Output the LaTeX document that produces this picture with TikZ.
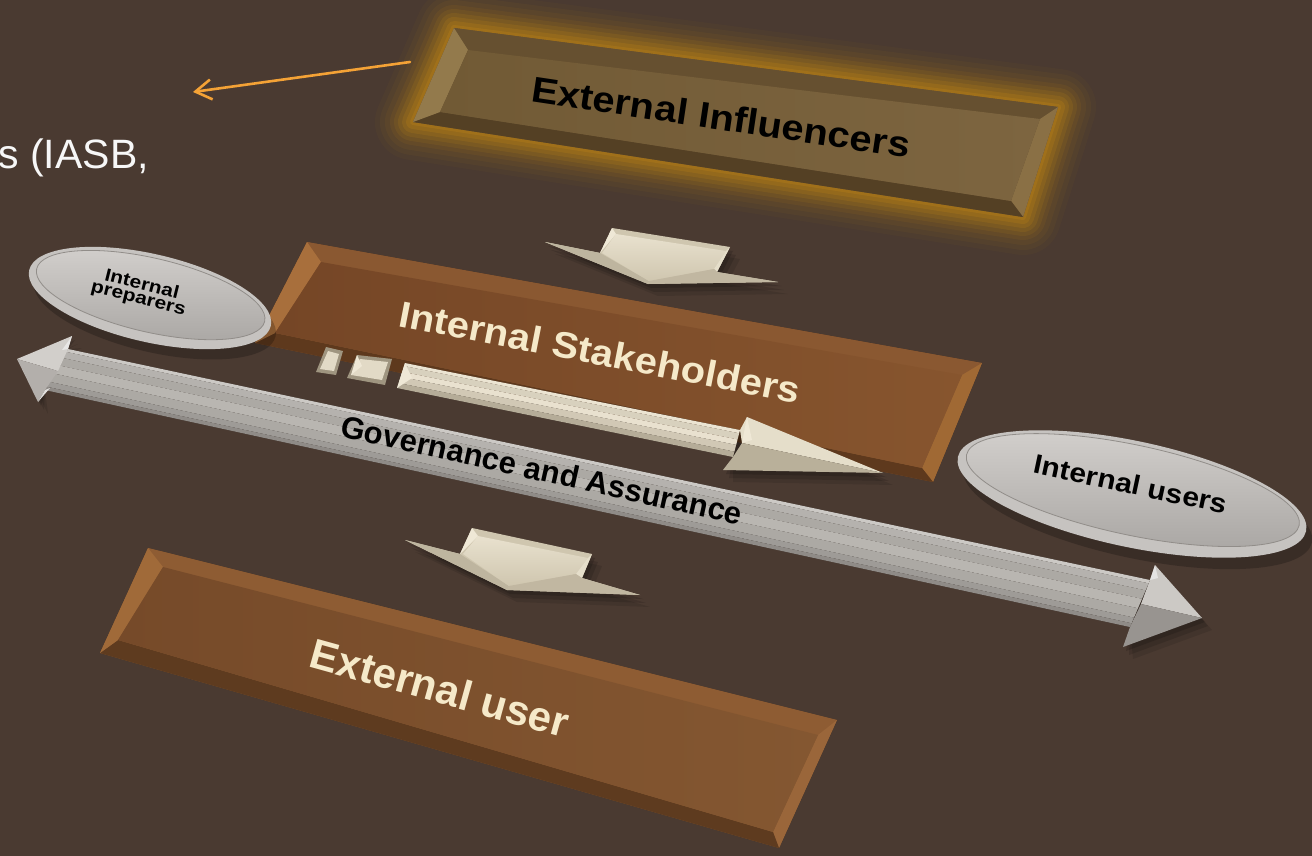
\documentclass[tikz,border=0pt]{standalone}
\usepackage{fontspec}
\setmainfont{Liberation Sans}
\usetikzlibrary{calc,arrows.meta}
\definecolor{bg}{HTML}{4A3A31}
\definecolor{glowc}{HTML}{A8761A}
\definecolor{eiface}{HTML}{715A35}
\definecolor{eifaceB}{HTML}{7D6540}
\definecolor{eitop}{HTML}{665030}
\definecolor{eileft}{HTML}{937A4C}
\definecolor{eiright}{HTML}{8A7045}
\definecolor{eibot}{HTML}{544024}
\definecolor{isface}{HTML}{754626}
\definecolor{isfaceB}{HTML}{87552E}
\definecolor{istop}{HTML}{8A5831}
\definecolor{isleft}{HTML}{A86F3C}
\definecolor{isright}{HTML}{A06934}
\definecolor{isbot}{HTML}{5E391D}
\definecolor{euface}{HTML}{764A29}
\definecolor{eufaceB}{HTML}{845731}
\definecolor{eutop}{HTML}{8E5C33}
\definecolor{euleft}{HTML}{A06A39}
\definecolor{euright}{HTML}{9A663A}
\definecolor{eubot}{HTML}{5E3B1F}
\definecolor{crm}{HTML}{CFC6AF}
\definecolor{crmlight}{HTML}{EFE8D6}
\definecolor{crmdark}{HTML}{9F9580}
\definecolor{glight}{HTML}{D2CFCB}
\definecolor{gdark}{HTML}{86827E}
\definecolor{ghead}{HTML}{B3AFAB}
\definecolor{rimc}{HTML}{C6C3C0}
\definecolor{facetop}{HTML}{D3D0CD}
\definecolor{facebot}{HTML}{A9A6A3}
\definecolor{txtcrm}{HTML}{F5E9C9}
\definecolor{orng}{HTML}{F4A236}
\newcommand\bevbox[1]{%
 \fill[#1top] (#1o1)--(#1o2)--(#1o3)--(#1o4)--cycle;
 \fill[#1top] (#1o1)--(#1o2)--(#1i2)--(#1i1)--cycle;
 \fill[#1right] (#1o2)--(#1o3)--(#1i3)--(#1i2)--cycle;
 \fill[#1bot] (#1o3)--(#1o4)--(#1i4)--(#1i3)--cycle;
 \fill[#1left] (#1o4)--(#1o1)--(#1i1)--(#1i4)--cycle;
 \shade[left color=#1face,right color=#1faceB] (#1i1)--(#1i2)--(#1i3)--(#1i4)--cycle;
}
\newcommand\softshadow[1]{%
 \fill[black,opacity=0.10,shift={(10,12)}] #1;
 \fill[black,opacity=0.12,shift={(6,8)}] #1;
 \fill[black,opacity=0.14,shift={(3,4)}] #1;
}
\begin{document}
\begin{tikzpicture}[x=1pt,y=-1pt,
  txtb/.style={font=\bfseries\fontsize{#1}{#1}\selectfont, inner sep=0pt},
  txtr/.style={font=\fontsize{#1}{#1}\selectfont, inner sep=0pt}]
\fill[bg] (0,0) rectangle (1312,856);
\useasboundingbox (0,0) rectangle (1312,856);
\clip (0,0) rectangle (1312,856);

% ---------------- External Influencers
\coordinate (eio1) at (454,28); \coordinate (eio2) at (1058,107);
\coordinate (eio3) at (1023,217); \coordinate (eio4) at (413,122);
\coordinate (eii1) at (468,50); \coordinate (eii2) at (1040,119);
\coordinate (eii3) at (1011,201); \coordinate (eii4) at (440,112);
\foreach \w/\o in {76/0.05,66/0.07,56/0.09,46/0.12,38/0.16,30/0.22,22/0.3,14/0.42,6/0.6}
  \draw[line width=\w pt,line join=round,draw=glowc,opacity=\o] (eio1)--(eio2)--(eio3)--(eio4)--cycle;
\bevbox{ei}
\node[txtb=40,rotate=-8.5,yscale=0.9,text=black] (eitext) at (721,117) {External Influencers};

% ---------------- chevron 1
\softshadow{(612,228)--(730,247)--(717,272)--(778,282)--(648,284)--(545,242)--(600,253)--cycle}
\fill[crm] (612,228)--(730,247)--(717,272)--(778,282)--(648,284)--(545,242)--(600,253)--cycle;
\fill[crmdark!35!crm] (545,242)--(600,253)--(649,281)--(648,284)--cycle;
\shade[top color=crmlight!80!crm,bottom color=crm] (616,234)--(726,251)--(714,269)--(649,281)--(602,253)--cycle;
\fill[crmlight] (612,228)--(600,253)--(616,234)--cycle;
\fill[crmlight!70!crm] (730,247)--(717,272)--(714,269)--(726,251)--cycle;
\fill[crmdark!30!crm] (714,269)--(717,272)--(778,282)--(648,284)--(649,281)--cycle;

% ---------------- Internal Stakeholders
\coordinate (iso1) at (307,242); \coordinate (iso2) at (982,363);
\coordinate (iso3) at (933,482); \coordinate (iso4) at (255,343);
\coordinate (isi1) at (321,262); \coordinate (isi2) at (962,375);
\coordinate (isi3) at (922,468); \coordinate (isi4) at (275,333);
\softshadow{(iso1)--(iso2)--(iso3)--(iso4)--cycle}
\bevbox{is}
\node[txtb=40,rotate=-11,yscale=0.92,text=txtcrm] (istext) at (600,352) {Internal Stakeholders};

% small cream arrow with squares
\fill[crmdark] (326,347)--(343,351)--(336,375)--(316,372)--cycle;
\fill[crmlight!60!crm] (328,351)--(339,354)--(334,371)--(320,369)--cycle;
\fill[crmdark] (357,355)--(392,359)--(385,385)--(347,378)--cycle;
\fill[crmlight!60!crm] (360,359)--(388,362)--(382,380)--(351,375)--cycle;
\fill[crmlight] (357,355)--(351,375)--(362,366)--cycle;
\coordinate (ca1) at (405,363); \coordinate (ca2) at (740,430);
\coordinate (cb1) at (397,388); \coordinate (cb2) at (733,457);
\softshadow{(ca1)--(ca2)--(747,417)--(883,473)--(723,470)--(cb2)--(cb1)--cycle}
\foreach \fa/\fb/\p in {0/0.12/5,0.12/0.35/28,0.35/0.55/8,0.55/0.8/38,0.8/1.001/72}
  \fill[crmdark!\p!crmlight] ($(ca1)!\fa!(cb1)$)--($(ca2)!\fa!(cb2)$)--($(ca2)!\fb!(cb2)$)--($(ca1)!\fb!(cb1)$)--cycle;
\fill[crmlight] (ca1)--(cb1)--(412,378)--cycle;
\fill[crmlight!70!crm] (740,430)--(747,417)--(883,473)--(742,443)--cycle;
\fill[crmdark!45!crm] (742,443)--(883,473)--(723,470)--(733,457)--cycle;
\fill[crmlight] (747,417)--(742,443)--(752,440)--cycle;

% ---------------- Internal preparers ellipse
\begin{scope}[rotate around={-13:(150,298)}]
  \fill[black,opacity=0.22] (157,307) ellipse [x radius=124,y radius=44];
  \fill[rimc] (150,298) ellipse [x radius=124,y radius=44];
  \shade[top color=facetop,bottom color=facebot] (150,295) ellipse [x radius=117,y radius=37];
  \draw[gdark!70!facebot,line width=0.8pt] (150,295) ellipse [x radius=117,y radius=37];
\end{scope}
\node[txtb=21,rotate=-14,yscale=0.85,text=black,align=center] (prep) at (140,292) {Internal\\[-4pt]preparers};

% ---------------- Governance and Assurance arrow
\coordinate (gt1) at (68,349); \coordinate (gt2) at (1150,580);
\coordinate (gb1) at (45,390); \coordinate (gb2) at (1130,627);
\softshadow{(17,359)--(72,336)--(gt1)--(gt2)--(1155,565)--(1202,618)--(1123,647)--(gb2)--(gb1)--(38,402)--cycle}
\foreach \fa/\fb/\p in {0/0.07/8,0.07/0.22/38,0.22/0.4/50,0.4/0.6/33,0.6/0.8/50,0.8/0.92/68,0.92/1.001/88}
  \fill[gdark!\p!glight] ($(gt1)!\fa!(gb1)$)--($(gt2)!\fa!(gb2)$)--($(gt2)!\fb!(gb2)$)--($(gt1)!\fb!(gb1)$)--cycle;
\fill[glight] (17,359)--(72,336)--(gt1)--(58,371)--cycle;
\fill[ghead] (17,359)--(58,371)--(gb1)--(38,402)--cycle;
\fill[white!70!ghead] (72,336)--(gt1)--(62,350)--cycle;
\fill[white!60!ghead] (38,402)--(gb1)--(50,388)--cycle;
\fill[glight!80!ghead] (gt2)--(1155,565)--(1202,618)--(1141,604)--cycle;
\fill[gdark!60!ghead] (1141,604)--(1202,618)--(1123,647)--(gb2)--cycle;
\fill[white!65!ghead] (1155,565)--(gt2)--(1158,578)--cycle;
\node[txtb=31,rotate=-12.5,text=black] (gov) at (542,470) {Governance and Assurance};

% ---------------- Internal users ellipse
\begin{scope}[rotate around={-12:(1132,494)}]
  \fill[black,opacity=0.22] (1140,504) ellipse [x radius=178,y radius=53];
  \fill[rimc] (1132,494) ellipse [x radius=178,y radius=53];
  \shade[top color=facetop,bottom color=facebot] (1132,490) ellipse [x radius=170,y radius=45];
  \draw[gdark!70!facebot,line width=0.8pt] (1132,490) ellipse [x radius=170,y radius=45];
\end{scope}
\node[txtb=30,rotate=-12,yscale=0.9,text=black] (users) at (1131,484) {Internal users};

% ---------------- chevron 2
\softshadow{(472,528)--(592,554)--(582,578)--(640,595)--(507,590)--(405,540)--(460,554)--cycle}
\fill[crm] (472,528)--(592,554)--(582,578)--(640,595)--(507,590)--(405,540)--(460,554)--cycle;
\fill[crmdark!35!crm] (405,540)--(460,554)--(509,586)--(507,590)--cycle;
\shade[top color=crmlight!80!crm,bottom color=crm] (478,536)--(588,558)--(576,574)--(509,586)--(463,554)--cycle;
\fill[crmlight] (472,528)--(460,554)--(478,536)--cycle;
\fill[crmlight!70!crm] (592,554)--(582,578)--(576,574)--(588,558)--cycle;
\fill[crmdark!30!crm] (576,574)--(582,578)--(640,595)--(507,590)--(509,586)--cycle;

% ---------------- External user
\coordinate (euo1) at (148,548); \coordinate (euo2) at (837,720);
\coordinate (euo3) at (779,848); \coordinate (euo4) at (100,653);
\coordinate (eui1) at (163,567); \coordinate (eui2) at (818,735);
\coordinate (eui3) at (773,832); \coordinate (eui4) at (118,640);
\softshadow{(euo1)--(euo2)--(euo3)--(euo4)--cycle}
\bevbox{eu}
\node[txtb=42,rotate=-15.5,text=txtcrm] (eutext) at (440,688) {External user};

% ---------------- orange pointer and partial text
\coordinate (oa) at (410,62);
\coordinate (ob) at (193,92);
\draw[orng,line width=2.6pt,line cap=round,-{Straight Barb[length=16pt,width=20pt,line width=2.6pt]}] (oa)--(ob);
\node[txtr=41,anchor=base east,text=white!94!gray] (iasb) at (149,168) {s (IASB,};
\end{tikzpicture}
\end{document}
